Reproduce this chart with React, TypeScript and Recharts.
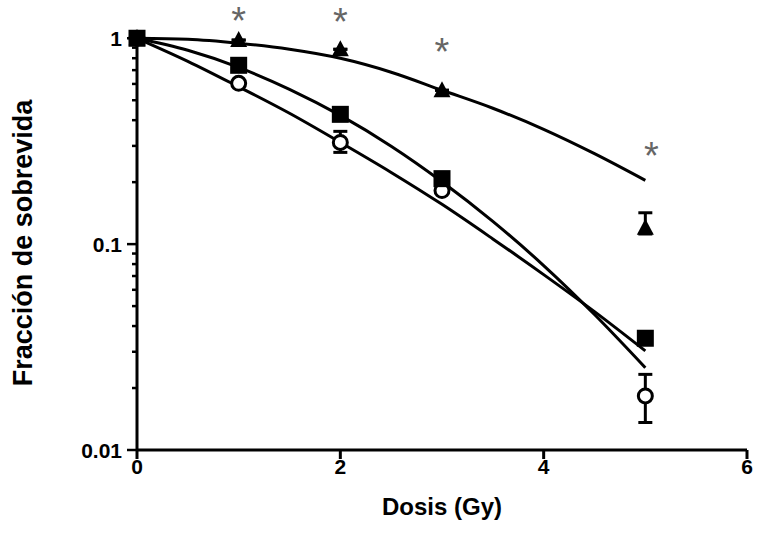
import {
  ComposedChart,
  Line,
  Scatter,
  XAxis,
  YAxis,
  ErrorBar,
  ReferenceLine,
} from "recharts";

// measured doses (Gy)
const DOSES = [0, 1, 2, 3, 5];

// survival fraction per group
const TRIANGLE = [1.0, 0.98, 0.884, 0.559, 0.12];
const TRIANGLE_ERR_LOW = [0, 0, 0, 0, 0.008];
const TRIANGLE_ERR_HIGH = [0, 0, 0, 0, 0.022];

const SQUARE = [1.0, 0.739, 0.427, 0.208, 0.0349];

const CIRCLE = [1.0, 0.604, 0.312, 0.182, 0.0183];
const CIRCLE_ERR_LOW = [0, 0, 0.033, 0, 0.0047];
const CIRCLE_ERR_HIGH = [0, 0, 0.041, 0, 0.005];

// fitted curves, sampled off the figure
const FIT_DOSE = [0, 0.5, 1, 1.5, 2, 2.5, 3, 3.5, 4, 4.5, 5];
const TRIANGLE_FIT = [1, 0.989, 0.946, 0.884, 0.799, 0.684, 0.559, 0.457, 0.361, 0.275, 0.204];
const SQUARE_FIT = [1, 0.874, 0.722, 0.565, 0.422, 0.299, 0.201, 0.129, 0.0787, 0.0455, 0.0251];
const CIRCLE_FIT = [1, 0.773, 0.581, 0.432, 0.312, 0.223, 0.156, 0.106, 0.0711, 0.047, 0.0303];

// significance marks
const STAR_DOSE = [1, 2, 3, 5.06];
const STAR_Y = [1.33, 1.32, 0.94, 0.296];

const X_TICKS = [0, 2, 4, 6];
const Y_MAJOR = [0.01, 0.1, 1];
const Y_MINOR = [
  0.02, 0.03, 0.04, 0.05, 0.06, 0.07, 0.08, 0.09,
  0.2, 0.3, 0.4, 0.5, 0.6, 0.7, 0.8, 0.9,
];
const Y_LABELS: Record<number, string> = { 0.01: "0.01", 0.1: "0.1", 1: "1" };

const FONT = "Arial, 'Liberation Sans', sans-serif";

const triData = DOSES.map((x, i) => ({
  x,
  y: TRIANGLE[i],
  err: [TRIANGLE_ERR_LOW[i], TRIANGLE_ERR_HIGH[i]],
}));
const sqData = DOSES.map((x, i) => ({ x, y: SQUARE[i] }));
const circData = DOSES.map((x, i) => ({
  x,
  y: CIRCLE[i],
  err: [CIRCLE_ERR_LOW[i], CIRCLE_ERR_HIGH[i]],
}));
const fitData = FIT_DOSE.map((x, i) => ({
  x,
  tri: TRIANGLE_FIT[i],
  sq: SQUARE_FIT[i],
  circ: CIRCLE_FIT[i],
}));
const starData = STAR_DOSE.map((x, i) => ({ x, y: STAR_Y[i] }));

const TriangleDot = (p: any) => (
  <polygon
    points={`${p.cx},${p.cy - 9} ${p.cx - 8.5},${p.cy + 7} ${p.cx + 8.5},${p.cy + 7}`}
    fill="#000"
  />
);

const SquareDot = (p: any) => (
  <rect x={p.cx - 8.5} y={p.cy - 8.5} width={17} height={17} fill="#000" />
);

const CircleDot = (p: any) => (
  <circle cx={p.cx} cy={p.cy} r={7} fill="#fff" stroke="#000" strokeWidth={3} />
);

const StarMark = (p: any) => (
  <text
    x={p.cx}
    y={p.cy}
    dy="0.57em"
    textAnchor="middle"
    fontSize={38}
    fontFamily={FONT}
    fill="#666"
  >
    *
  </text>
);

const YTick = ({ x, y, payload }: any) => {
  const major = Y_MAJOR.includes(payload.value);
  return (
    <g>
      <line
        x1={x - (major ? 10 : 5)}
        x2={x}
        y1={y}
        y2={y}
        stroke="#000"
        strokeWidth={2.5}
      />
      {major && (
        <text
          x={x - 15}
          y={y}
          textAnchor="end"
          dominantBaseline="central"
          fontSize={21}
          fontWeight="bold"
          fontFamily={FONT}
          fill="#000"
        >
          {Y_LABELS[payload.value]}
        </text>
      )}
    </g>
  );
};

const YTitle = ({ viewBox }: any) => {
  const cx = viewBox.x - 14;
  const cy = viewBox.y + viewBox.height / 2 + 17;
  return (
    <text
      x={cx}
      y={cy}
      transform={`rotate(-90 ${cx} ${cy})`}
      textAnchor="middle"
      dominantBaseline="central"
      fontSize={27}
      fontWeight="bold"
      fontFamily={FONT}
      fill="#000"
    >
      Fracción de sobrevida
    </text>
  );
};

export default function App() {
  return (
    <div style={{ position: "absolute", left: 0, top: 0, background: "#fff" }}>
      <ComposedChart
        width={757}
        height={555}
        margin={{ top: 2, right: 10, bottom: 55, left: 37 }}
      >
        <XAxis
          dataKey="x"
          type="number"
          domain={[0, 6]}
          ticks={X_TICKS}
          interval={0}
          stroke="#000"
          axisLine={{ stroke: "#000", strokeWidth: 3 }}
          tickLine={{ stroke: "#000", strokeWidth: 3 }}
          tickSize={9}
          tickMargin={0}
          height={50}
          tick={{ fill: "#000", fontSize: 21, fontWeight: "bold", fontFamily: FONT }}
          label={{
            value: "Dosis (Gy)",
            position: "bottom",
            offset: -2,
            fill: "#000",
            fontSize: 24,
            fontWeight: "bold",
            fontFamily: FONT,
          }}
        />
        <YAxis
          type="number"
          scale="log"
          domain={[0.01, 1.5]}
          ticks={[...Y_MAJOR, ...Y_MINOR]}
          interval={0}
          axisLine={false}
          tickLine={false}
          tickSize={0}
          tickMargin={0}
          width={100}
          tick={<YTick />}
          label={<YTitle />}
        />
        <ReferenceLine
          segment={[
            { x: 0, y: 0.01 },
            { x: 0, y: 1 },
          ]}
          stroke="#000"
          strokeWidth={3}
        />
        <Line
          data={fitData}
          dataKey="tri"
          type="monotone"
          dot={false}
          stroke="#000"
          strokeWidth={3}
          isAnimationActive={false}
        />
        <Line
          data={fitData}
          dataKey="sq"
          type="monotone"
          dot={false}
          stroke="#000"
          strokeWidth={3}
          isAnimationActive={false}
        />
        <Line
          data={fitData}
          dataKey="circ"
          type="monotone"
          dot={false}
          stroke="#000"
          strokeWidth={3}
          isAnimationActive={false}
        />
        <Scatter data={circData} dataKey="y" shape={CircleDot} isAnimationActive={false}>
          <ErrorBar dataKey="err" direction="y" width={7} stroke="#000" strokeWidth={3} />
        </Scatter>
        <Scatter data={sqData} dataKey="y" shape={SquareDot} isAnimationActive={false} />
        <Scatter data={triData} dataKey="y" shape={TriangleDot} isAnimationActive={false}>
          <ErrorBar dataKey="err" direction="y" width={7} stroke="#000" strokeWidth={3} />
        </Scatter>
        <Scatter data={starData} dataKey="y" shape={StarMark} isAnimationActive={false} />
      </ComposedChart>
    </div>
  );
}
